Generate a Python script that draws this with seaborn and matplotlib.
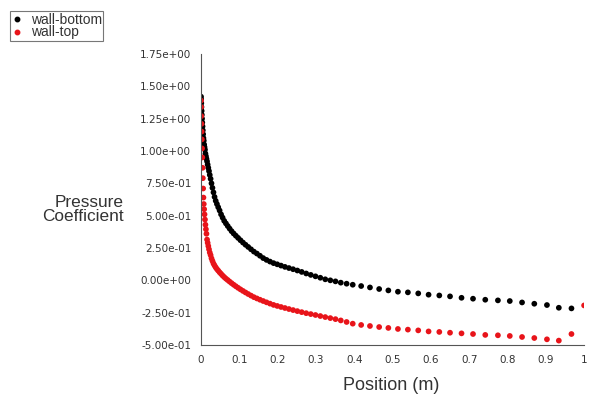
import matplotlib
matplotlib.use("Agg")
import matplotlib.pyplot as plt
from matplotlib.ticker import FuncFormatter, MultipleLocator
from matplotlib.lines import Line2D
import seaborn as sns
import pandas as pd

position = [0, 0.0003, 0.0007, 0.0011, 0.0016, 0.0021, 0.0027, 0.0033, 0.004, 0.0047,
            0.0055, 0.0063, 0.0072, 0.0082, 0.0092, 0.0103, 0.0115, 0.0128, 0.0142, 0.0157,
            0.0173, 0.019, 0.0208, 0.0228, 0.025, 0.0273, 0.0298, 0.0325, 0.0353, 0.0383,
            0.0415, 0.0449, 0.0485, 0.0523, 0.0563, 0.0605, 0.065, 0.0697, 0.0746, 0.0798,
            0.0852, 0.0909, 0.0968, 0.103, 0.1095, 0.1162, 0.1232, 0.1305, 0.138, 0.1458,
            0.1539, 0.1623, 0.171, 0.18, 0.1893, 0.1989, 0.2088, 0.219, 0.2295, 0.2403,
            0.2514, 0.2628, 0.2745, 0.2865, 0.2988, 0.3114, 0.3243, 0.3375, 0.351, 0.3648,
            0.380, 0.396, 0.418, 0.441, 0.465, 0.489, 0.514, 0.540, 0.567, 0.594,
            0.622, 0.650, 0.680, 0.710, 0.742, 0.775, 0.806, 0.838, 0.870, 0.903,
            0.934, 0.967, 1.0]

wall_bottom = [1.42, 1.40, 1.37, 1.34, 1.31, 1.28, 1.25, 1.22, 1.19, 1.16,
               1.13, 1.10, 1.08, 1.05, 1.03, 1.01, 0.98, 0.96, 0.94, 0.92,
               0.895, 0.87, 0.845, 0.815, 0.785, 0.75, 0.715, 0.68, 0.645, 0.615,
               0.59, 0.565, 0.54, 0.51, 0.485, 0.46, 0.44, 0.42, 0.40, 0.38,
               0.362, 0.345, 0.328, 0.31, 0.292, 0.275, 0.258, 0.24, 0.222, 0.207,
               0.19, 0.172, 0.158, 0.145, 0.133, 0.124, 0.114, 0.104, 0.095, 0.086,
               0.076, 0.065, 0.053, 0.042, 0.031, 0.02, 0.008, 0.0, -0.008, -0.018,
               -0.026, -0.034, -0.044, -0.055, -0.067, -0.078, -0.088, -0.093, -0.101, -0.111,
               -0.117, -0.124, -0.135, -0.142, -0.150, -0.155, -0.160, -0.171, -0.181, -0.191,
               -0.212, -0.217]

wall_top = [1.39, 1.34, 1.27, 1.21, 1.15, 1.09, 1.02, 0.95, 0.87, 0.79,
            0.71, 0.64, 0.59, 0.55, 0.51, 0.47, 0.43, 0.395, 0.36, 0.315,
            0.29, 0.265, 0.24, 0.215, 0.195, 0.17, 0.15, 0.13, 0.115, 0.10,
            0.087, 0.075, 0.062, 0.05, 0.037, 0.025, 0.013, 0.002, -0.01, -0.022,
            -0.034, -0.046, -0.058, -0.07, -0.082, -0.094, -0.106, -0.118, -0.13, -0.14,
            -0.15, -0.16, -0.17, -0.18, -0.19, -0.198, -0.206, -0.214, -0.222, -0.23,
            -0.238, -0.246, -0.254, -0.261, -0.268, -0.276, -0.284, -0.292, -0.30, -0.31,
            -0.322, -0.335, -0.345, -0.353, -0.361, -0.368, -0.376, -0.381, -0.387, -0.395,
            -0.399, -0.405, -0.410, -0.415, -0.422, -0.425, -0.430, -0.438, -0.446, -0.456,
            -0.466, -0.415, -0.194]

series_names = ["wall-bottom", "wall-top"]
series_colors = ["#000000", "#e8141a"]

df = pd.concat([
    pd.DataFrame({"Position": position[:len(wall_bottom)], "Cp": wall_bottom, "Surface": series_names[0]}),
    pd.DataFrame({"Position": position[:len(wall_top)], "Cp": wall_top, "Surface": series_names[1]}),
], ignore_index=True)

sns.set_style("white")
plt.rcParams["font.family"] = ["Liberation Sans", "DejaVu Sans"]

fig = plt.figure(figsize=(5.93, 4.0), dpi=100)
ax = fig.add_axes([0.339, 0.1375, 0.646, 0.7275])

sns.scatterplot(data=df, x="Position", y="Cp", hue="Surface", hue_order=series_names,
                palette=series_colors, s=17, linewidth=0, ax=ax, legend=False)

ax.set_xlim(0, 1.0)
ax.set_ylim(-0.5, 1.75)
ax.xaxis.set_major_locator(MultipleLocator(0.1))
ax.yaxis.set_major_locator(MultipleLocator(0.25))
ax.yaxis.set_minor_locator(MultipleLocator(0.05))
ax.yaxis.set_major_formatter(FuncFormatter(lambda v, p: f"{v:.2e}"))
ax.xaxis.set_major_formatter(FuncFormatter(lambda v, p: f"{v:g}"))

for side in ["top", "right"]:
    ax.spines[side].set_visible(False)
for side in ["left", "bottom"]:
    ax.spines[side].set_color("#555555")
    ax.spines[side].set_linewidth(0.8)

ax.tick_params(axis="both", which="major", direction="out", length=4, width=0.8,
               color="#555555", labelsize=7.5, labelcolor="#333333", pad=3)
ax.tick_params(axis="y", which="minor", direction="out", length=2, width=0.6, color="#777777")
ax.tick_params(axis="x", which="minor", length=0)
for lbl in ax.get_xticklabels() + ax.get_yticklabels():
    lbl.set_fontfamily(["DejaVu Sans"])

ax.set_xlabel("")
ax.set_ylabel("")
fig.text(0.66, 1 - 386 / 400, "Position (m)", ha="center", va="center",
         fontsize=13, color="#333333")
fig.text(0.208, 0.476, "Pressure\nCoefficient", ha="right", va="center",
         fontsize=12.4, color="#333333", linespacing=0.95, multialignment="right")

handles = [Line2D([], [], marker="o", linestyle="", markersize=3.2, color=c) for c in series_colors]
leg = fig.legend(handles, series_names, loc="upper left", bbox_to_anchor=(0.017, 0.972),
                 frameon=True, fancybox=False, fontsize=10, handlelength=0.8,
                 handletextpad=0.6, borderpad=0.1, labelspacing=-0.08, borderaxespad=0)
leg.get_frame().set_edgecolor("#555555")
leg.get_frame().set_linewidth(0.8)
for t in leg.get_texts():
    t.set_color("#333333")

fig.savefig("out.png", dpi=100)
